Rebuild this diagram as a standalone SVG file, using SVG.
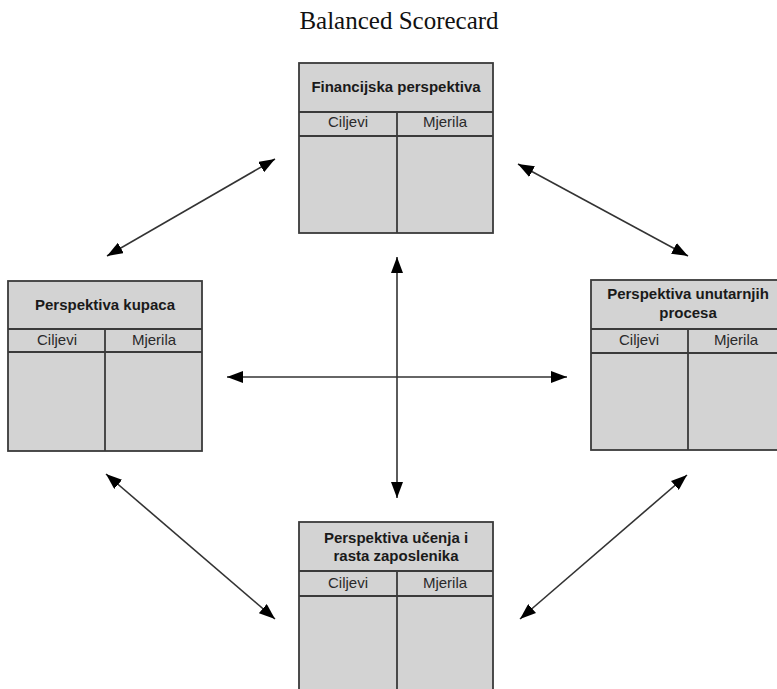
<svg xmlns="http://www.w3.org/2000/svg" width="777" height="689" viewBox="0 0 777 689">
  <style>
    .box { fill: #d3d3d3; stroke: #3a3a3a; stroke-width: 1.8; }
    .div { stroke: #3a3a3a; stroke-width: 1.8; fill: none; }
    .head { font-family: "Liberation Sans", Arial, sans-serif; font-weight: bold; font-size: 15px; fill: #1a1a1a; text-anchor: middle; }
    .col { font-family: "Liberation Sans", Arial, sans-serif; font-size: 15px; fill: #2a2a2a; text-anchor: middle; }
    .title { font-family: "Liberation Serif", "Times New Roman", serif; font-size: 25px; fill: #111; text-anchor: middle; }
    .link { stroke: #333; stroke-width: 1.6; fill: none; marker-start: url(#tip); marker-end: url(#tip); }
  </style>
  <defs>
    <marker id="tip" viewBox="0 0 16 12" refX="16" refY="6" markerWidth="16" markerHeight="12" markerUnits="userSpaceOnUse" orient="auto-start-reverse">
      <path d="M0,0 L16,6 L0,12 z" fill="#000"/>
    </marker>
  </defs>
  <rect width="777" height="689" fill="#fff"/>

  <text class="title" x="399" y="29">Balanced Scorecard</text>

  <!-- Financial perspective -->
  <g id="financijska">
    <rect class="box" x="299" y="63" width="194" height="170"/>
    <path class="div" d="M299,112 H493 M299,136 H493 M397,112 V233"/>
    <text class="head" x="396" y="92">Financijska perspektiva</text>
    <text class="col" x="348" y="127">Ciljevi</text>
    <text class="col" x="445" y="127">Mjerila</text>
  </g>

  <!-- Customer perspective -->
  <g id="kupci">
    <rect class="box" x="8" y="281" width="194" height="170"/>
    <path class="div" d="M8,329 H202 M8,352 H202 M105,329 V451"/>
    <text class="head" x="105" y="310">Perspektiva kupaca</text>
    <text class="col" x="57" y="345">Ciljevi</text>
    <text class="col" x="154" y="345">Mjerila</text>
  </g>

  <!-- Internal process perspective -->
  <g id="procesi">
    <rect class="box" x="591" y="280" width="194" height="170"/>
    <path class="div" d="M591,329 H785 M591,353 H785 M688,329 V450"/>
    <text class="head" x="688" y="299">Perspektiva unutarnjih</text>
    <text class="head" x="688" y="318">procesa</text>
    <text class="col" x="639" y="345">Ciljevi</text>
    <text class="col" x="736" y="345">Mjerila</text>
  </g>

  <!-- Learning and growth perspective -->
  <g id="ucenje">
    <rect class="box" x="299" y="522" width="194" height="175"/>
    <path class="div" d="M299,571 H493 M299,596 H493 M397,571 V697"/>
    <text class="head" x="396" y="543">Perspektiva učenja i</text>
    <text class="head" x="396" y="561">rasta zaposlenika</text>
    <text class="col" x="348" y="588">Ciljevi</text>
    <text class="col" x="445" y="588">Mjerila</text>
  </g>

  <!-- Two-way links -->
  <g id="connectors">
    <line class="link" x1="397" y1="257" x2="397" y2="498"/>
    <line class="link" x1="227" y1="377" x2="567" y2="377"/>
    <line class="link" x1="275" y1="159" x2="107" y2="256"/>
    <line class="link" x1="518" y1="164" x2="688" y2="256"/>
    <line class="link" x1="106" y1="474" x2="275" y2="619"/>
    <line class="link" x1="687" y1="475" x2="520" y2="619"/>
  </g>
</svg>
